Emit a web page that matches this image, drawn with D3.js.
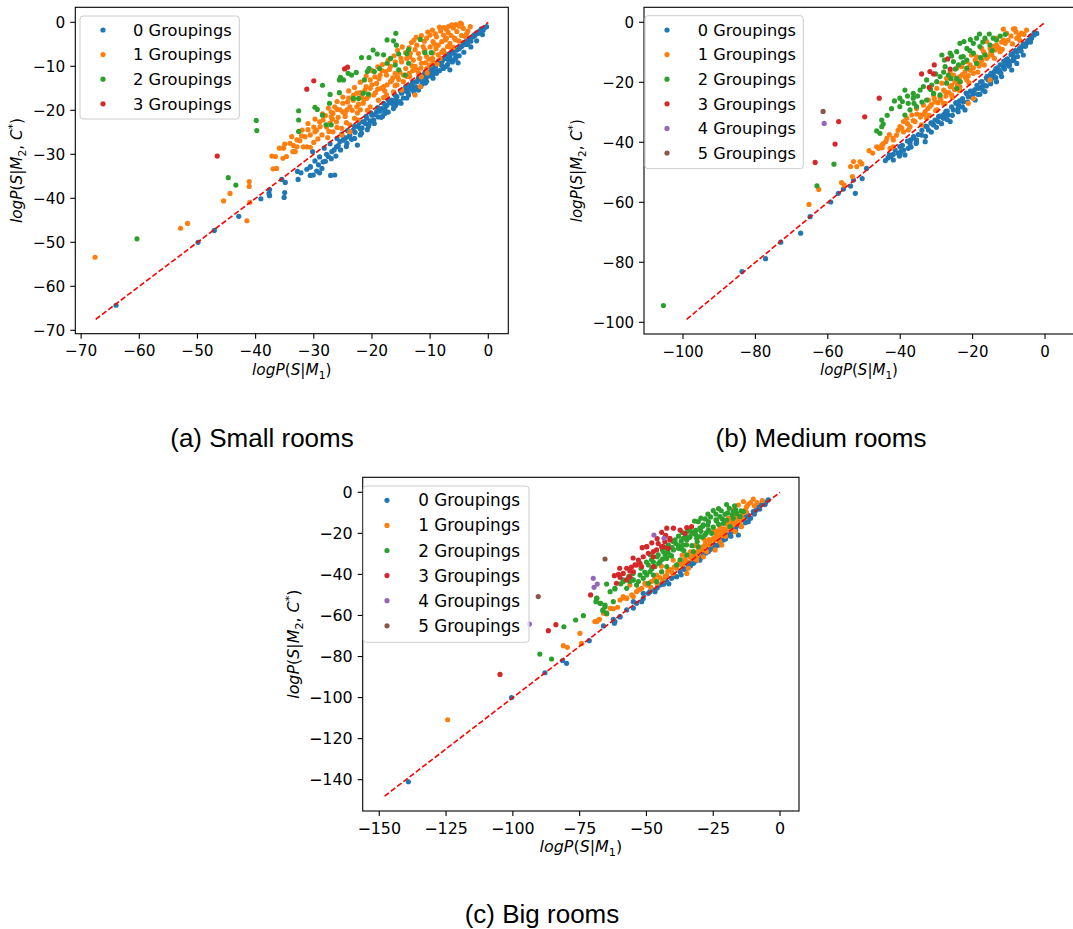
<!DOCTYPE html>
<meta charset="utf-8">
<script src="https://d3js.org/d3.v7.min.js"></script>
<style>
  body { margin: 0; background: #fff; }
  svg text { font-family: "DejaVu Sans", sans-serif; fill: #000; }
  .caption { font-family: "Liberation Sans", Arial, sans-serif; }
</style>
<div id="fig"></div>
<script>
// ---- data ----
const groupLabels = ["0 Groupings", "1 Groupings", "2 Groupings", "3 Groupings", "4 Groupings", "5 Groupings"];
const colors = ["#1f77b4", "#ff7f0e", "#2ca02c", "#d62728", "#9467bd", "#8c564b"];

const smallTicksX = [-70, -60, -50, -40, -30, -20, -10, 0];
const smallTicksY = [-70, -60, -50, -40, -30, -20, -10, 0];
const mediumTicksX = [-100, -80, -60, -40, -20, 0];
const mediumTicksY = [-100, -80, -60, -40, -20, 0];
const bigTicksX = [-150, -125, -100, -75, -50, -25, 0];
const bigTicksY = [-140, -120, -100, -80, -60, -40, -20, 0];

// diagonal y = x reference line ends
const smallDiag = [-67.5, 0];
const mediumDiag = [-99, 0];
const bigDiag = [-148, 0];

// small rooms
const small0 = [[-64.0,-64.3],[-49.9,-50.0],[-47.1,-47.3],[-42.9,-44.1],[-39.1,-40.1],[-37.6,-38.0],[-37.6,-39.4],[-37.7,-38.9],[-35.5,-35.7],[-34.9,-36.4],[-35.0,-38.7],[-35.1,-39.8],[-32.8,-33.9],[-32.2,-34.2],[-32.7,-35.7],[-30.6,-32.9],[-30.6,-34.8],[-27.1,-34.8],[-30.2,-29.4],
 [-0.3,-1.0],[-0.9,-1.8],[-1.7,-2.5],[-2.6,-3.3],[-3.1,-4.0],[-3.7,-4.8],[-4.6,-5.5],[-5.4,-6.3],[-6.3,-6.7],[-6.6,-7.8],[-5.2,-9.2],[-7.4,-8.2],[-8.3,-9.3],[-9.2,-9.7],[-7.7,-10.5],[-6.6,-10.8],[-8.9,-11.6],[-10.0,-11.2],[-10.6,-12.4],[-11.5,-13.1],[-9.5,-12.7],[-12.3,-13.5],[-13.2,-14.2],[-12.0,-15.4],[-14.0,-15.0],[-14.9,-16.1],[-13.7,-16.5],[-15.7,-16.9],[-16.6,-17.7],[-15.2,-18.0],[-17.4,-18.8],[-16.3,-19.6],[-18.3,-19.6],[-19.2,-20.3],[-17.8,-20.7],[-20.0,-21.1],[-20.9,-21.8],[-19.7,-22.2],[-21.5,-22.6],[-20.6,-23.7],[-22.4,-23.7],[-23.2,-24.5],[-21.8,-25.2],[-23.8,-25.6],[-24.6,-26.4],[-25.5,-27.1],[-24.3,-27.5],[-22.5,-27.9],[-26.1,-28.3],[-26.9,-29.4],[-27.5,-30.5],[-28.4,-31.7],[-29.2,-32.4],[-28.6,-33.2],[-30.1,-34.7],[-26.4,-34.7],[-30.6,-32.8],
 [-1.2,-1.5],[-2.0,-2.4],[-2.3,-3.0],[-3.5,-3.9],[-4.2,-4.6],[-4.9,-5.6],[-5.9,-6.4],[-6.8,-7.2],[-7.3,-7.6],[-7.9,-8.8],[-8.6,-8.9],[-9.1,-10.2],[-9.8,-10.5],[-10.3,-11.8],[-11.1,-11.9],[-11.8,-12.6],[-12.6,-13.6],[-12.9,-14.8],[-13.6,-14.4],[-14.4,-15.6],[-15.1,-15.5],[-15.9,-17.6],[-16.8,-18.2],[-17.6,-19.1],[-18.6,-20.2],[-19.5,-21.0],[-20.3,-22.4],[-21.1,-23.0],[-22.0,-24.2],[-22.9,-25.0],[-24.0,-26.0],[-25.0,-26.8],[-26.5,-29.0],[-27.8,-30.0],[-29.0,-30.6],[-29.8,-31.5],[-4.0,-5.0],[-8.0,-9.8],[-10.8,-13.8],[-14.6,-17.2],[-18.9,-21.5],[-5.6,-7.5],[-3.0,-4.3],[-11.4,-14.0],[-17.0,-18.0],[-21.7,-24.0],
 [-0.6,-1.2],[-1.5,-2.0],[-2.5,-2.9],[-3.3,-3.6],[-4.4,-5.2],[-5.0,-6.0],[-6.1,-7.0],[-7.0,-8.0],[-8.0,-8.4],[-9.0,-9.4],[-10.0,-10.6],[-10.9,-11.5],[-12.0,-12.6],[-13.0,-13.6],[-14.2,-14.6],[-15.0,-15.8],[-16.0,-16.6],[-17.2,-17.6],[-18.0,-18.4],[-19.0,-19.4],[-20.2,-20.6],[-21.0,-21.4],[-22.2,-22.8],[-23.0,-23.6],[-24.2,-24.6],[-25.2,-25.4],[-26.0,-26.4],[-27.2,-27.6],[-28.2,-28.6],[-6.0,-8.6],[-9.0,-11.0],[-12.4,-14.8],[-15.8,-18.5],[-18.2,-21.4],[-20.5,-23.2],[-23.5,-26.6],[-25.8,-28.0],[-27.0,-31.0],[-29.5,-33.8],[-31.2,-33.4],[-7.0,-9.6],[-10.2,-12.2],[-13.8,-16.0],[-16.4,-18.6],[-19.8,-22.4],
 [-2.0,-4.2],[-3.0,-5.6],[-4.2,-6.8],[-5.0,-7.6],[-6.2,-9.0],[-7.2,-10.0],[-8.4,-11.0],[-9.6,-12.0],[-10.6,-13.4],[-11.6,-14.6],[-12.8,-15.8],[-14.0,-17.2],[-15.0,-18.4],[-16.0,-19.0],[-17.2,-20.4],[-18.4,-21.6],[-19.6,-23.0],[-20.8,-24.4],[-22.0,-25.6],[-23.0,-26.4],[-24.4,-28.2],[-25.4,-29.0],[-26.2,-30.4],[-28.0,-31.6],[-29.0,-34.2],[-3.6,-5.0],[-6.8,-8.6],[-9.4,-11.4],[-11.2,-13.0],[-13.2,-15.2],[-17.8,-19.8],[-21.4,-22.6],[-24.8,-26.2],[-1.0,-2.8],[-5.6,-8.2]];
const small1 = [[-67.6,-53.4],[-52.9,-46.8],[-51.7,-45.7],[-45.5,-40.6],[-44.4,-38.9],[-41.1,-36.2],[-41.1,-37.3],[-41.5,-45.1],[-41.0,-40.9],[-37.2,-30.4],[-37.0,-33.3],[-35.3,-30.9],[-35.9,-28.6],[-35.0,-27.7],[-33.6,-29.4],[-33.5,-28.0],[-32.9,-26.7],[-31.8,-28.3],[-32.1,-25.8],
 [-6.3,-0.6],[-4.6,-0.4],[-4.3,-1.4],[-5.4,-2.1],[-7.2,-1.6],[-7.7,-2.9],[-8.9,-3.3],[-9.5,-4.4],[-10.6,-3.6],[-12.3,-5.2],[-11.2,-5.5],[-8.6,-5.2],[-6.6,-4.8],[-5.8,-3.6],[-7.7,-6.3],[-9.5,-7.0],[-10.6,-7.8],[-12.0,-7.1],[-12.9,-8.6],[-11.5,-9.3],[-9.5,-8.9],[-8.3,-8.2],[-12.3,-10.8],[-13.5,-12.4],[-14.6,-13.5],[-15.7,-14.2],[-16.8,-13.5],[-18.0,-14.6],[-19.2,-13.9],[-20.3,-15.0],[-19.7,-16.5],[-20.9,-17.3],[-21.5,-18.4],[-20.3,-19.2],[-18.9,-17.7],[-17.5,-16.5],[-16.3,-15.8],[-14.9,-15.4],[-11.5,-12.4],[-10.6,-10.5],[-10.1,-9.7],[-22.6,-16.1],[-23.2,-17.7],[-23.8,-19.2],[-24.3,-19.9],[-24.6,-21.4],[-25.5,-19.9],[-26.4,-19.2],[-26.7,-20.7],[-28.4,-22.2],[-27.2,-22.9],[-26.1,-22.6],[-25.2,-24.1],[-23.8,-23.3],[-23.0,-21.8],[-22.4,-22.2],[-28.9,-23.7],[-29.8,-24.9],[-30.6,-25.6],[-31.5,-26.0],[-28.6,-25.6],[-29.5,-24.5],[-26.7,-24.9],[-25.2,-25.6],[-23.8,-24.9],[-32.4,-26.9],[-32.9,-28.3],[-34.1,-27.5],[-35.2,-28.6],[-36.6,-30.5],[-36.4,-33.2],[-34.7,-30.5],[-33.2,-29.4],[-31.2,-28.3],[-30.6,-28.4],[-12.6,-16.5],[-11.7,-14.6],[-3.1,-1.0],[-3.7,-2.5],[-7.4,-4.0],[-10.9,-6.3],[-13.5,-7.8],[-14.9,-9.0],[-16.0,-11.6],[-17.5,-12.0],[-18.6,-12.0],[-20.3,-13.1],[-21.2,-15.4],[-22.0,-19.9],
 [-5.0,-0.9],[-6.0,-1.3],[-6.9,-2.3],[-8.2,-2.0],[-9.1,-2.6],[-10.0,-2.9],[-11.0,-4.3],[-12.8,-4.1],[-13.6,-5.8],[-14.2,-6.9],[-9.0,-6.0],[-8.0,-6.8],[-7.0,-5.5],[-6.0,-5.7],[-10.2,-8.4],[-11.8,-8.2],[-13.1,-9.9],[-14.2,-10.5],[-15.2,-11.3],[-16.4,-12.6],[-17.0,-10.7],[-18.3,-11.0],[-19.5,-12.4],[-12.0,-11.5],[-13.0,-11.0],[-15.4,-13.0],[-17.8,-15.6],[-19.0,-15.2],[-21.8,-17.0],[-22.3,-18.6],[-24.2,-18.1],[-25.0,-20.4],[-27.0,-21.5],[-27.8,-23.8],[-29.3,-26.5],[-30.0,-27.3],[-4.0,-3.2],[-5.0,-4.3],[-8.8,-9.5],[-10.5,-11.5],[-14.0,-12.3],[-16.0,-14.4],[-18.0,-17.1],[-20.8,-20.0],[-22.5,-20.6],[-24.4,-22.8],[-26.0,-23.9],[-27.6,-26.2],
 [-4.8,-0.2],[-5.6,-0.5],[-6.8,-0.9],[-7.6,-1.2],[-8.4,-1.1],[-9.6,-1.8],[-10.4,-2.2],[-11.5,-3.0],[-12.4,-3.4],[-13.2,-4.6],[-14.8,-5.6],[-15.6,-6.4],[-16.2,-7.6],[-17.2,-8.6],[-18.2,-9.6],[-19.0,-10.1],[-20.0,-11.0],[-21.0,-12.2],[-22.0,-13.6],[-23.0,-14.8],[-24.0,-15.6],[-25.0,-17.0],[-26.0,-18.0],[-27.5,-19.5],[-28.5,-20.8],[-29.8,-22.0],[-31.0,-23.0],[-32.0,-24.5],[-33.8,-26.0],
 [-6.4,-3.0],[-7.2,-3.6],[-8.0,-4.4],[-9.2,-5.0],[-10.0,-5.6],[-11.0,-6.6],[-12.6,-6.2],[-13.4,-7.0],[-14.0,-8.2],[-15.0,-8.2],[-16.0,-9.0],[-16.8,-10.0],[-17.6,-11.2],[-18.8,-12.8],[-20.0,-14.2],[-21.0,-14.6],[-22.0,-16.0],[-23.2,-16.6],[-24.0,-17.2],[-25.0,-18.4],[-26.0,-19.8],[-27.0,-20.4],[-28.0,-21.2],[-29.0,-22.6],[-30.0,-23.8],[-31.0,-24.4],
 [-3.5,-2.0],[-4.6,-3.0],[-5.6,-4.0],[-6.6,-5.6],[-7.6,-6.8],[-8.6,-7.4],[-9.6,-8.2],[-10.8,-9.2],[-11.6,-10.4],[-12.6,-10.0],[-13.6,-11.6],[-14.6,-12.0],[-15.6,-12.4],[-16.6,-13.2],[-17.4,-14.2],[-18.4,-15.0],[-19.4,-16.0],[-20.6,-16.8],[-21.4,-17.6],[-22.6,-19.2],[-23.4,-20.0],[-24.6,-20.6],[-25.8,-21.6],[-26.8,-22.0],[-27.4,-24.8]];
const small2 = [[-60.4,-49.2],[-39.9,-22.3],[-39.8,-24.6],[-44.7,-35.3],[-43.4,-37.0],[-32.6,-20.1],[-32.6,-22.2],[-32.6,-24.8],[-28.5,-14.3],[-29.8,-19.3],[-29.4,-19.8],[-28.5,-21.1],[-27.9,-23.3],[-27.2,-16.4],[-25.6,-16.0],[-25.6,-13.1],[-25.4,-12.5],[-24.1,-11.6],[-21.8,-8.0],[-23.2,-17.3],[-21.5,-16.1],[-19.8,-6.3],[-19.1,-7.2],[-17.4,-4.0],[-15.9,-2.5],[-11.7,-3.9],[-10.9,-6.9],
 [-16.3,-4.2],[-15.8,-5.2],[-18.0,-7.4],[-20.5,-8.0],[-13.7,-6.2],[-14.0,-7.1],[-15.4,-7.2],[-16.8,-8.2],[-17.4,-9.3],[-16.0,-9.7],[-15.4,-10.8],[-13.7,-9.3],[-14.3,-12.0],[-9.8,-6.9],[-18.7,-10.5],[-19.6,-11.2],[-20.8,-11.2],[-20.5,-10.5],[-22.7,-11.4],[-23.5,-12.0],[-21.3,-13.1],[-24.9,-13.1],[-22.3,-17.3],[-20.6,-16.3],[-27.3,-18.4],[-27.0,-23.3]];
const small3 = [[-46.6,-30.4],[-30.0,-13.3],[-31.2,-15.2],[-24.7,-10.6],[-24.2,-10.2]];

// medium rooms
const medium0 = [[-83.7,-83.1],[-77.2,-78.8],[-73.0,-73.3],[-67.5,-70.3],[-64.9,-64.8],[-59.2,-59.9],[-57.1,-57.0],[-55.7,-55.6],[-53.7,-54.6],[-52.9,-52.6],[-52.4,-57.0],[-50.5,-52.1],[-49.3,-48.7],[-44.1,-46.1],[-41.9,-44.0],[-40.5,-43.7],[-40.2,-44.6],[-40.1,-41.4],[-37.8,-42.0],[-37.1,-39.2],[-35.5,-40.0],
 [-2.3,-3.7],[-3.7,-5.3],[-5.1,-7.0],[-6.4,-8.1],[-7.8,-9.8],[-6.0,-10.9],[-8.7,-11.5],[-10.1,-13.1],[-7.8,-13.7],[-11.5,-14.8],[-9.2,-15.9],[-12.9,-16.5],[-14.3,-17.6],[-12.0,-18.1],[-15.7,-19.2],[-13.4,-19.8],[-17.0,-20.9],[-18.4,-22.0],[-16.6,-23.1],[-19.8,-23.7],[-21.2,-24.8],[-19.3,-25.9],[-22.6,-26.5],[-23.9,-27.6],[-22.1,-29.2],[-25.3,-29.2],[-26.7,-30.9],[-28.1,-32.0],[-26.2,-33.1],[-29.5,-33.1],[-30.8,-34.2],[-32.2,-35.9],[-34.1,-37.6],[-33.1,-39.8],[-35.5,-39.2],[-37.3,-40.4],[-39.1,-42.6],[-38.7,-44.2],[-40.1,-43.7],[-41.9,-45.9],
 [-3.0,-4.2],[-4.4,-5.9],[-5.6,-7.6],[-7.1,-9.0],[-8.9,-10.4],[-10.8,-12.6],[-11.0,-13.9],[-13.6,-15.5],[-14.9,-17.0],[-16.2,-18.6],[-17.8,-19.9],[-20.6,-22.9],[-21.8,-23.6],[-24.6,-26.8],[-27.4,-29.7],[-29.0,-31.3],[-31.5,-33.5],[-33.0,-34.6],[-36.3,-38.1],[-9.8,-14.2],[-15.0,-20.5],[-18.0,-24.0],
 [-3.0,-3.4],[-4.0,-4.6],[-4.8,-6.2],[-6.0,-7.2],[-7.0,-8.6],[-8.2,-9.4],[-9.4,-10.8],[-10.4,-12.2],[-11.4,-13.0],[-12.4,-14.2],[-13.2,-15.2],[-14.0,-16.4],[-15.0,-17.4],[-16.0,-18.0],[-17.4,-19.8],[-18.8,-21.0],[-19.4,-22.4],[-20.4,-23.0],[-21.6,-23.8],[-22.8,-25.4],[-23.6,-26.2],[-24.6,-27.0],[-25.8,-28.2],[-27.0,-29.6],[-28.0,-30.8],[-29.4,-31.4],[-30.4,-32.6],[-31.4,-33.6],[-32.6,-34.8],[-34.0,-36.0],[-35.0,-37.4],[-36.4,-38.6],[-38.0,-39.6],[-39.4,-41.0],[-42.6,-44.8],[-43.4,-45.2],[-8.6,-12.4],[-10.6,-14.0],[-12.6,-16.0],[-14.6,-18.6],[-17.6,-21.6],[-20.0,-24.4],[-24.0,-28.6],[-27.6,-31.0],
 [-4.0,-6.6],[-5.4,-8.0],[-6.6,-9.6],[-7.6,-11.4],[-9.0,-12.8],[-10.0,-14.6],[-11.2,-15.6],[-12.2,-17.0],[-13.6,-18.4],[-15.0,-19.6],[-16.2,-21.2],[-17.2,-22.6],[-18.6,-24.0],[-20.2,-25.0],[-21.4,-26.6],[-22.8,-28.2],[-24.0,-29.8],[-25.6,-31.0],[-27.0,-32.4],[-28.6,-33.8],[-30.0,-35.0],[-31.4,-36.6],[-33.0,-38.0],[-35.6,-40.4],[-37.0,-41.6],[-39.8,-43.0],[-43.0,-44.2],[-41.4,-42.6]];
const medium1 = [[-65.2,-60.7],[-62.5,-55.7],[-56.2,-53.4],[-55.5,-54.3],[-53.7,-48.1],[-52.9,-46.4],[-50.6,-47.2],[-53.2,-51.4],[-8.3,-2.2],[-11.5,-2.3],
 [-8.7,-2.2],[-5.1,-2.6],[-10.6,-3.7],[-7.8,-5.3],[-11.5,-5.9],[-13.4,-7.6],[-15.2,-8.7],[-12.4,-9.8],[-17.0,-9.8],[-18.9,-11.5],[-16.1,-12.0],[-18.0,-13.7],[-20.7,-14.2],[-22.1,-16.5],[-19.8,-17.0],[-23.5,-18.1],[-21.6,-19.2],[-24.9,-19.8],[-26.2,-21.5],[-23.5,-21.5],[-27.6,-23.1],[-25.8,-24.2],[-29.0,-24.8],[-30.4,-26.5],[-28.1,-27.0],[-31.8,-28.1],[-29.9,-29.2],[-33.1,-29.8],[-34.5,-30.9],[-32.7,-32.0],[-35.9,-33.1],[-34.1,-34.2],[-37.3,-34.8],[-39.1,-36.5],[-41.0,-37.6],[-41.9,-39.2],[-44.7,-40.4],[-46.0,-42.0],[-42.8,-42.0],[-51.1,-46.5],[-52.0,-48.1],[-15.2,-19.2],[-19.8,-25.4],[-21.2,-27.0],
 [-13.4,-5.3],[-16.1,-6.4],[-14.7,-10.9],[-17.5,-8.7],[-19.3,-12.6],[-20.3,-10.9],[-21.6,-13.1],[-24.4,-15.3],[-23.0,-14.8],[-26.2,-16.5],[-27.2,-18.7],[-25.3,-17.6],[-28.5,-20.3],[-29.9,-22.0],[-30.8,-24.2],[-32.2,-25.9],[-33.6,-27.6],[-35.5,-28.7],[-36.8,-30.9],[-38.2,-32.0],[-39.1,-33.1],[-40.1,-34.8],[-37.8,-35.9],[-43.7,-38.7],[-45.1,-40.9],[-46.5,-41.5],[-41.9,-41.5],
 [-6.5,-3.6],[-7.2,-4.4],[-8.0,-3.2],[-9.4,-4.6],[-10.2,-6.0],[-11.0,-7.0],[-12.0,-6.6],[-12.8,-8.4],[-13.8,-9.2],[-14.2,-8.0],[-15.0,-10.0],[-15.8,-11.4],[-16.6,-10.6],[-17.4,-12.6],[-18.2,-14.6],[-19.0,-13.2],[-19.8,-15.2],[-20.6,-16.0],[-21.2,-17.8],[-22.0,-18.4],[-22.8,-17.4],[-23.4,-19.8],[-24.2,-20.6],[-25.0,-22.4],[-25.8,-21.0],[-26.6,-23.4],[-27.4,-24.6],[-28.0,-22.6],[-28.8,-25.8],[-29.6,-26.8],[-30.6,-25.4],[-31.4,-27.4],[-32.4,-28.8],[-33.4,-30.6],[-34.4,-31.6],[-35.4,-30.6],[-36.4,-32.8],[-38.0,-33.8],[-39.6,-35.2],[-40.6,-36.0],[-42.0,-38.6],[-43.0,-37.4],[-44.0,-39.8],[-45.0,-41.8],[-47.6,-43.6],[-48.6,-42.8],[-11.8,-9.0],[-14.0,-12.0],[-16.8,-14.2],[-18.6,-16.6],[-21.0,-20.2],[-23.6,-22.8],[-25.6,-25.0],[-27.6,-27.0],[-30.2,-29.4],[-32.0,-31.0],[-9.0,-7.2],[-7.0,-6.0],[-5.8,-4.0]];
const medium2 = [[-105.4,-94.4],[-63.0,-54.5],[-58.3,-47.3],
 [-15.4,-3.9],[-18.1,-3.9],[-11.0,-4.0],[-14.3,-5.3],[-16.6,-5.3],[-23.5,-7.0],[-21.6,-8.7],[-19.8,-7.0],[-18.0,-8.1],[-24.4,-9.8],[-22.6,-11.4],[-25.3,-13.1],[-23.9,-14.2],[-27.6,-14.8],[-26.7,-17.6],[-29.0,-18.1],[-29.9,-19.8],[-32.7,-19.2],[-31.3,-20.9],[-34.5,-22.6],[-36.4,-23.7],[-38.7,-22.6],[-36.4,-25.3],[-40.1,-25.3],[-37.8,-27.0],[-40.1,-28.1],[-35.5,-28.1],[-37.3,-29.2],[-38.7,-30.9],[-45.1,-32.6],[-44.7,-33.9],[-45.1,-34.8],[-46.5,-36.2],[-45.6,-37.0],
 [-28.5,-10.9],[-26.2,-10.3],[-21.6,-12.6],[-19.8,-10.3],[-27.2,-20.3],[-24.4,-22.0],[-23.5,-19.8],[-30.8,-23.7],[-32.7,-25.9],[-29.0,-24.2],[-18.9,-5.3],[-13.4,-5.9],[-15.2,-7.6],[-16.6,-10.9],[-21.6,-15.3],[-18.9,-13.7],[-24.4,-18.7],
 [-20.6,-5.8],[-22.4,-6.4],[-17.2,-6.6],[-12.4,-4.6],[-20.8,-9.4],[-23.2,-11.6],[-25.8,-11.2],[-24.8,-15.6],[-28.0,-16.6],[-30.2,-17.2],[-27.8,-12.6],[-31.6,-22.4],[-33.6,-21.4],[-35.2,-24.6],[-38.0,-24.6],[-39.4,-26.4],[-41.6,-26.2],[-42.4,-28.8],[-43.6,-31.0],[-36.2,-27.0],[-34.0,-26.6],[-26.0,-18.8],[-22.6,-13.4],[-17.8,-11.8],[-14.6,-9.4]];
const medium3 = [[-30.6,-14.2],[-26.9,-12.2],[-26.2,-15.6],[-31.8,-16.4],[-30.8,-17.2],[-34.1,-17.2],[-32.0,-21.7],[-45.8,-25.3],[-49.8,-31.5],[-57.0,-33.1],[-58.0,-40.6],[-63.5,-46.7]];
const medium4 = [[-61.0,-33.7]];
const medium5 = [[-61.3,-29.7]];

// big rooms
const big0 = [[-139.1,-141.0],[-100.5,-100.0],[-88.0,-87.9],[-81.4,-82.0],[-79.9,-83.3],[-71.4,-72.3],[-66.1,-65.1],[-62.4,-61.9],[-62.0,-63.8],[-59.9,-60.7],[-54.9,-56.4],[-51.8,-53.3],[-51.2,-49.2],[-48.7,-48.4],
 [-4.4,-3.7],[-6.2,-5.4],[-8.1,-7.0],[-10.0,-9.4],[-11.9,-11.1],[-13.7,-12.7],[-11.9,-14.3],[-15.6,-15.9],[-17.5,-18.4],[-15.6,-20.8],[-19.3,-20.8],[-21.2,-23.2],[-23.1,-25.7],[-25.0,-27.3],[-26.8,-28.9],[-28.7,-30.5],[-30.0,-33.0],[-32.4,-34.6],[-34.3,-36.2],[-37.4,-38.7],[-38.7,-41.1],[-40.6,-41.9],[-42.4,-43.5],[-44.9,-45.2],[-46.8,-48.4],[-49.3,-49.2],[-51.2,-51.7],[-53.7,-54.1],[-57.4,-57.3],[-59.9,-60.5],[-61.8,-63.0],[-54.9,-53.3],
 [-5.3,-4.8],[-7.0,-6.0],[-9.0,-8.8],[-12.8,-12.0],[-16.5,-17.0],[-18.4,-19.5],[-20.3,-22.0],[-22.2,-24.0],[-24.0,-26.2],[-27.8,-29.6],[-31.2,-32.3],[-33.5,-35.8],[-36.0,-37.2],[-39.8,-40.5],[-43.6,-44.8],
 [-5.6,-6.0],[-7.6,-8.2],[-9.6,-10.6],[-11.0,-12.6],[-13.0,-14.8],[-14.6,-16.6],[-16.6,-18.6],[-18.4,-21.4],[-20.4,-22.8],[-22.4,-24.6],[-24.4,-25.6],[-26.0,-27.8],[-28.0,-29.0],[-29.6,-31.8],[-31.4,-33.4],[-33.4,-34.2],[-35.6,-37.6],[-37.0,-40.2],[-39.6,-40.8],[-41.6,-44.6],[-44.0,-43.8],[-46.0,-46.6],[-48.0,-47.2]];
const big1 = [[-124.4,-110.8],[-81.1,-74.7],[-79.6,-75.5],[-74.9,-68.7],[-74.3,-73.6],[-69.3,-63.0],[-67.6,-61.9],[-64.9,-59.3],[-62.4,-56.7],[-60.8,-56.0],[-57.4,-51.6],[-54.9,-50.8],[-53.0,-47.6],[-58.7,-51.5],
 [-10.0,-3.3],[-13.7,-4.5],[-12.5,-7.0],[-15.6,-6.2],[-17.5,-8.6],[-15.6,-14.3],[-18.1,-15.9],[-20.0,-18.4],[-21.2,-20.8],[-23.7,-21.6],[-22.5,-24.1],[-26.2,-24.1],[-28.1,-25.7],[-30.0,-27.3],[-27.5,-28.9],[-31.8,-29.7],[-33.7,-31.4],[-31.2,-33.0],[-34.9,-33.8],[-36.8,-35.4],[-38.7,-37.0],[-34.9,-39.5],[-40.6,-38.7],[-42.4,-40.3],[-44.3,-38.7],[-46.2,-40.3],[-48.1,-43.5],[-49.9,-45.2],[-51.8,-46.8],[-53.7,-48.4],[-55.5,-50.0],[-57.4,-51.7],[-58.7,-50.8],[-56.2,-45.2],[-59.9,-52.5],[-63.6,-56.5],[-66.1,-58.9],[-68.0,-62.2],[-68.6,-63.0],[-25.0,-19.2],[-28.7,-22.4],[-22.5,-16.7],[-19.3,-12.7],[-14.4,-16.7],[-16.8,-19.2],[-24.3,-28.1],[-21.8,-25.7],[-28.7,-31.4],[-34.3,-37.0],
 [-11.0,-5.0],[-12.0,-6.0],[-13.0,-8.6],[-14.2,-10.6],[-16.0,-12.4],[-17.2,-14.6],[-18.6,-13.6],[-19.6,-15.8],[-21.0,-17.8],[-22.4,-19.2],[-23.6,-18.8],[-25.0,-22.6],[-26.6,-23.0],[-27.6,-26.0],[-29.0,-26.6],[-30.6,-28.6],[-32.4,-30.6],[-33.6,-29.0],[-35.6,-32.6],[-37.4,-33.6],[-39.6,-36.4],[-41.0,-37.6],[-43.0,-41.0],[-45.0,-41.6],[-47.0,-42.4],[-50.6,-44.4],[-52.6,-47.4],[-8.6,-5.0],[-15.0,-15.0],[-18.0,-18.0],[-20.4,-21.4],[-23.0,-23.4],
 [-6.6,-4.0],[-9.6,-6.6],[-12.6,-9.6],[-14.0,-12.8],[-16.6,-15.6],[-19.0,-17.0],[-20.6,-19.4],[-22.0,-21.0],[-24.6,-23.0],[-26.0,-25.4],[-29.0,-28.0],[-31.0,-31.0],[-33.0,-32.4],[-36.0,-34.6],[-38.0,-35.0],[-40.0,-39.6],[-42.0,-38.4],[-44.0,-43.0],[-46.0,-44.4],[-48.4,-46.2],[-44.4,-36.0],[-40.0,-33.0],[-36.6,-30.6],[-32.0,-26.0],[-28.0,-23.6],[-24.0,-20.4],[-20.0,-15.2],[-16.4,-10.6]];
const big2 = [[-89.9,-78.8],[-85.5,-81.2],[-80.9,-65.5],[-76.5,-62.2],[-73.6,-60.1],[-68.6,-51.6],[-68.9,-53.3],[-67.1,-54.1],[-65.5,-55.7],[-66.3,-57.7],[-64.9,-59.0],[-62.4,-53.3],[-61.8,-46.8],[-64.9,-44.7],[-58.7,-43.5],[-57.4,-46.8],[-55.2,-42.7],
 [-25.0,-8.9],[-19.0,-7.8],[-20.6,-10.7],[-22.5,-11.9],[-23.7,-14.0],[-20.0,-13.5],[-16.2,-10.3],[-17.5,-12.7],[-26.8,-14.3],[-28.7,-15.9],[-30.0,-17.5],[-32.4,-20.0],[-33.7,-21.6],[-31.2,-22.4],[-34.9,-23.2],[-36.2,-25.7],[-38.1,-27.3],[-39.9,-28.1],[-41.2,-30.5],[-42.4,-32.2],[-44.9,-33.8],[-46.8,-36.2],[-49.3,-35.4],[-48.7,-38.7],[-49.9,-40.3],[-51.2,-41.9],[-53.0,-43.5],[-54.9,-42.7],[-56.2,-43.5],[-58.7,-42.7],[-53.7,-45.2],[-61.8,-47.1],[-63.6,-48.4],[-68.6,-51.7],[-67.4,-54.1],[-65.5,-54.9],[-66.3,-57.3],[-64.9,-58.9],[-26.8,-18.4],[-28.1,-20.8],[-25.6,-20.0],[-30.6,-26.5],[-32.4,-28.9],[-34.9,-30.5],[-37.4,-32.9],[-38.7,-35.4],[-42.4,-36.2],[-44.3,-38.7],[-47.4,-40.3],[-46.2,-43.5],[-49.3,-44.3],[-52.4,-40.3],[-21.2,-15.1],[-18.7,-16.7],[-15.0,-11.9],[-13.7,-9.4],[-17.5,-9.4],[-30.6,-14.3],[-33.7,-18.4],[-30.0,-21.6],[-36.2,-22.4],[-39.3,-23.2],[-41.8,-25.7],[-43.7,-28.9],[-45.6,-30.5],[-48.1,-32.9],
 [-22.0,-9.0],[-24.0,-10.6],[-26.0,-12.0],[-28.0,-13.0],[-29.0,-16.6],[-31.6,-18.6],[-33.0,-19.6],[-34.0,-22.0],[-35.4,-21.2],[-37.0,-23.8],[-38.0,-26.0],[-39.0,-25.0],[-40.4,-27.0],[-42.0,-29.0],[-43.0,-30.6],[-44.0,-32.6],[-45.4,-34.6],[-47.4,-34.0],[-48.0,-37.2],[-50.6,-39.0],[-36.0,-28.4],[-33.0,-26.0],[-31.0,-24.0],[-29.0,-21.8],[-27.6,-19.8],[-25.0,-17.0],[-23.0,-15.6],[-21.6,-13.0],[-19.6,-10.0],[-18.0,-11.0],[-16.6,-8.6],[-14.6,-9.0],
 [-20.0,-6.0],[-23.0,-8.0],[-17.0,-6.6],[-27.0,-10.6],[-29.6,-12.6],[-32.0,-14.0],[-34.6,-19.0],[-36.6,-19.6],[-38.0,-21.4],[-40.0,-24.0],[-42.6,-27.0],[-44.0,-28.0],[-46.0,-31.4],[-48.6,-30.4],[-50.0,-34.0],[-52.0,-37.0],[-55.0,-39.6],[-56.6,-41.0],[-59.6,-44.6],[-24.0,-13.4],[-27.0,-16.0],[-29.6,-19.0],[-31.6,-20.6],[-35.0,-25.6],[-37.0,-27.6],[-40.6,-31.0]];
const big3 = [[-104.8,-88.7],[-86.7,-67.4],[-83.9,-64.5],[-70.9,-50.0],[-59.9,-41.4],[-57.4,-37.0],[-56.2,-41.1],[-54.9,-38.7],[-53.7,-35.4],[-49.9,-26.5],[-49.3,-29.7],[-47.4,-28.9],[-42.4,-17.5],[-41.2,-23.2],[-43.7,-26.5],
 [-39.9,-17.5],[-37.4,-18.4],[-34.9,-17.2],[-33.1,-16.7],[-35.6,-20.0],[-41.2,-22.4],[-43.1,-24.1],[-44.3,-26.5],[-46.2,-28.1],[-49.9,-26.5],[-51.2,-31.4],[-47.4,-31.4],[-52.4,-34.6],[-54.3,-35.4],[-51.8,-36.2],[-56.2,-38.3],[-58.7,-39.5],[-60.5,-40.0],[-57.4,-42.7],[-61.2,-44.3],[-41.8,-27.3],[-44.3,-19.5],[-47.4,-36.2],
 [-42.8,-21.0],[-45.6,-25.0],[-48.0,-24.6],[-53.0,-33.0],[-55.6,-36.4],
 [-46.0,-22.6],[-51.6,-27.0],[-55.0,-32.0],[-60.0,-37.0],[-62.0,-40.6]];
const big4 = [[-47.2,-20.8],[-43.4,-22.4],[-69.9,-41.9],[-69.6,-46.3],[-68.4,-44.7],[-93.8,-64.2]];
const big5 = [[-65.5,-32.5],[-90.5,-50.8]];

// ---- layout ----
const W = 1073, H = 929;
const svg = d3.select("#fig").append("svg").attr("width", W).attr("height", H);

const panels = [
  { groups: [small0, small1, small2, small3], ticksX: smallTicksX, ticksY: smallTicksY, diag: smallDiag,
    box: { l: 75.3, t: 7.3, r: 508.3, b: 333.7 }, xd: [-71.0, 3.44], yd: [-70.77, 3.41],
    tickFs: 15.3, legFs: 16.3, legend: { l: 80, t: 16, r: 239.3, b: 119, mx: 103, tx: 133, y0: 30, dy: 24.6 },
    ylabX: 17, xlabY: 375, caption: "(a) Small rooms", capX: 262, capY: 447 },
  { groups: [medium0, medium1, medium2, medium3, medium4, medium5], ticksX: mediumTicksX, ticksY: mediumTicksY, diag: mediumDiag,
    box: { l: 644, t: 7.3, r: 1074, b: 334 }, xd: [-110.77, 8.0], yd: [-103.9, 5.0],
    tickFs: 15, legFs: 16.2, legend: { l: 645, t: 15.7, r: 803.3, b: 168.7, mx: 667, tx: 697.7, y0: 30, dy: 24.6 },
    ylabX: 577, xlabY: 375, caption: "(b) Medium rooms", capX: 821, capY: 447 },
  { groups: [big0, big1, big2, big3, big4, big5], ticksX: bigTicksX, ticksY: bigTicksY, diag: bigDiag,
    box: { l: 362.7, t: 477.3, r: 799, b: 811 }, xd: [-156.2, 7.1], yd: [-155.25, 7.3],
    tickFs: 15.9, legFs: 16.8, legend: { l: 363.3, t: 486, r: 529, b: 642.3, mx: 387, tx: 418.3, y0: 500.3, dy: 25.1 },
    ylabX: 293, xlabY: 852, caption: "(c) Big rooms", capX: 542, capY: 923 }
];

function mathLabel(sel, parts) {
  // parts: [text, italic?, dy, size]
  parts.forEach(p => {
    const t = sel.append("tspan").text(p[0]);
    if (p[1]) t.style("font-style", "italic");
    if (p[2]) t.attr("dy", p[2]);
    if (p[3]) t.style("font-size", p[3] + "px");
  });
}

panels.forEach(p => {
  const b = p.box;
  const x = d3.scaleLinear().domain(p.xd).range([b.l, b.r]);
  const y = d3.scaleLinear().domain(p.yd).range([b.b, b.t]);
  const g = svg.append("g");

  // points, one layer per grouping count
  p.groups.forEach((pts, i) => {
    g.append("g").selectAll("circle").data(pts).join("circle")
      .attr("cx", d => x(d[0])).attr("cy", d => y(d[1])).attr("r", 2.6)
      .attr("fill", colors[i]);
  });

  // y = x line
  g.append("line")
    .attr("x1", x(p.diag[0])).attr("y1", y(p.diag[0]))
    .attr("x2", x(p.diag[1])).attr("y2", y(p.diag[1]))
    .attr("stroke", "#ff0000").attr("stroke-width", 1.6).attr("stroke-dasharray", "5.5,2.4");

  // spines
  g.append("rect").attr("x", b.l).attr("y", b.t).attr("width", b.r - b.l).attr("height", b.b - b.t)
    .attr("fill", "none").attr("stroke", "#000").attr("stroke-width", 1.1);

  // x ticks
  const xt = g.append("g").selectAll("g").data(p.ticksX).join("g")
    .attr("transform", d => `translate(${x(d)},${b.b})`);
  xt.append("line").attr("y2", 5).attr("stroke", "#000").attr("stroke-width", 1.1);
  xt.append("text").attr("y", 22.5).attr("text-anchor", "middle").style("font-size", p.tickFs + "px")
    .text(d => d < 0 ? "\u2212" + Math.abs(d) : d);

  // y ticks
  const yt = g.append("g").selectAll("g").data(p.ticksY).join("g")
    .attr("transform", d => `translate(${b.l},${y(d)})`);
  yt.append("line").attr("x2", -5).attr("stroke", "#000").attr("stroke-width", 1.1);
  yt.append("text").attr("x", -10).attr("dy", "0.36em").attr("text-anchor", "end").style("font-size", p.tickFs + "px")
    .text(d => d < 0 ? "\u2212" + Math.abs(d) : d);

  // axis labels
  const fs = p.tickFs;
  const xl = g.append("text").attr("x", (b.l + b.r) / 2).attr("y", p.xlabY)
    .attr("text-anchor", "middle").style("font-size", fs + "px");
  mathLabel(xl, [["logP", true], ["("], ["S", true], ["|"], ["M", true], ["1", false, 4, fs * 0.7], [")", false, -4]]);

  const yl = g.append("text").attr("transform", `translate(${p.ylabX},${(b.t + b.b) / 2}) rotate(-90)`)
    .attr("text-anchor", "middle").attr("dy", "0.35em").style("font-size", fs + "px");
  mathLabel(yl, [["logP", true], ["("], ["S", true], ["|"], ["M", true], ["2", false, 4, fs * 0.7], [", ", false, -4], ["C", true], ["*", false, -6, fs * 0.7], [")", false, 6]]);

  // legend
  const L = p.legend;
  const lg = g.append("g");
  lg.append("rect").attr("x", L.l).attr("y", L.t).attr("width", L.r - L.l).attr("height", L.b - L.t)
    .attr("rx", 3).attr("fill", "#fff").attr("fill-opacity", 0.8).attr("stroke", "#cccccc").attr("stroke-width", 1);
  const rows = lg.selectAll("g").data(groupLabels.slice(0, p.groups.length)).join("g")
    .attr("transform", (d, i) => `translate(0,${L.y0 + i * L.dy})`);
  rows.append("circle").attr("cx", L.mx).attr("r", 2.6).attr("fill", (d, i) => colors[i]);
  rows.append("text").attr("x", L.tx).attr("dy", "0.36em").style("font-size", p.legFs + "px").text(d => d);

  // sub-caption
  svg.append("text").attr("class", "caption").attr("x", p.capX).attr("y", p.capY)
    .attr("text-anchor", "middle").style("font-size", "26px").text(p.caption);
});
</script>
